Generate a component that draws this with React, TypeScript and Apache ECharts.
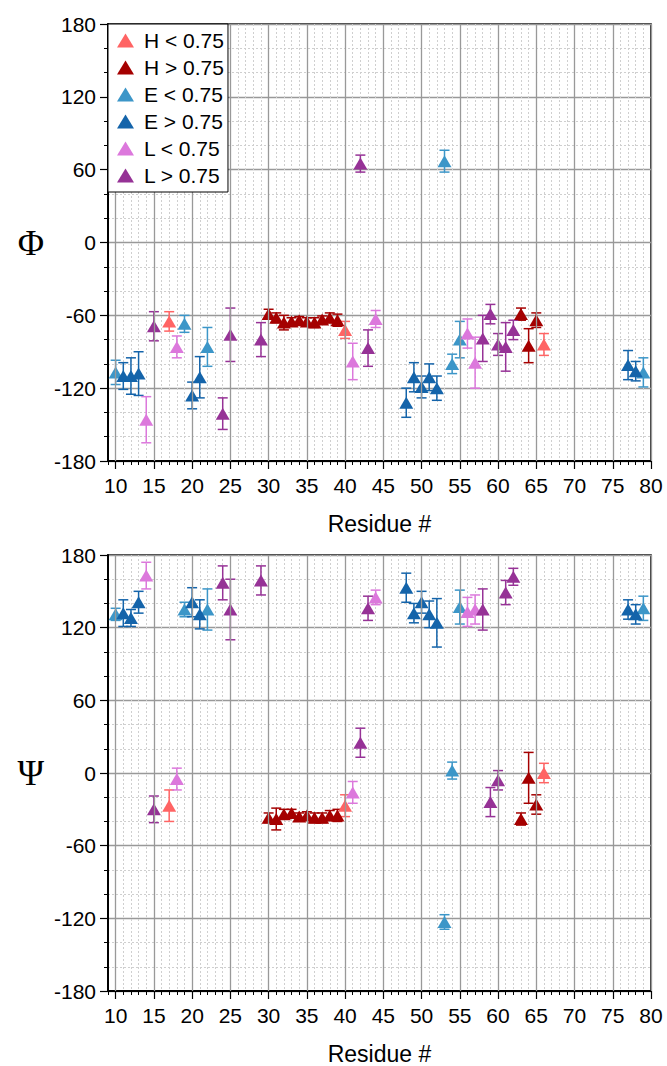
import React, { useEffect, useRef } from "react";
import * as echarts from "echarts";

// ---------- data ----------
const groupNames = ["H < 0.75", "H > 0.75", "E < 0.75", "E > 0.75", "L < 0.75", "L > 0.75"];
const groupColors = ["#ff6464", "#a50000", "#3c96c8", "#1464aa", "#dc78dc", "#963296"];

const residues = [
  10, 11, 12, 13, 14, 15, 17, 18, 19, 20, 21, 22, 24, 25, 29,
  30, 31, 32, 33, 34, 35, 36, 37, 38, 39, 40, 41, 42, 43, 44,
  48, 49, 50, 51, 52, 53, 54, 55, 56, 57, 58, 59, 60, 61, 62,
  63, 64, 65, 66, 77, 78, 79,
];
// index into groupNames
const residueClass = [
  2, 3, 3, 3, 4, 5, 0, 4, 2, 3, 3, 2, 5, 5, 5,
  1, 1, 1, 1, 1, 1, 1, 1, 1, 1, 0, 4, 5, 5, 4,
  3, 3, 3, 3, 3, 2, 2, 2, 4, 4, 5, 5, 5, 5, 5,
  1, 1, 1, 0, 3, 3, 2,
];
const phiValues = [
  -107, -110, -110, -108, -146, -69, -65, -86, -67, -126, -111, -86, -141, -76, -80,
  -59, -62, -66, -65, -64, -65, -66, -63.5, -62, -64, -72, -98, 65, -87, -63,
  -132, -111, -119, -111, -120, 67, -100, -80, -75, -99, -79, -59, -84, -86, -72,
  -59, -85, -64, -84, -101, -106, -107,
];
const phiErrors = [
  10, 11, 15, 18, 19, 12, 8, 9, 7, 11, 17, 16, 13, 22, 14,
  4, 4, 6, 3, 3, 3, 4, 3, 4, 5, 7, 15, 7, 15, 7,
  12, 12, 9, 11, 10, 9, 8, 15, 12, 21, 19, 8, 9, 20, 8,
  5, 14, 6, 9, 12, 8, 12,
];
const psiValues = [
  131, 132, 128, 141, 163, -30, -27, -5, 135, 141, 131, 135, 157, 135, 159,
  -37, -38, -34, -33, -36, -35, -37, -37, -35, -35, -27, -16, 25, 136, 145,
  153, 132, 141, 131, 124, -123, 2, 137, 133, 135, 135, -24, -6, 149, 162,
  -38, -4, -26, 0, 135, 131, 136,
];
const psiErrors = [
  5, 11, 7, 9, 11, 11, 13, 9, 6, 12, 12, 17, 14, 25, 12,
  4, 9, 4, 3, 3, 3, 4, 4, 4, 5, 9, 9, 12, 10, 6,
  12, 8, 9, 11, 20, 6, 7, 14, 12, 12, 17, 12, 8, 10, 7,
  5, 21, 8, 8, 8, 8, 10,
];
const xTickLabels = [10, 15, 20, 25, 30, 35, 40, 45, 50, 55, 60, 65, 70, 75, 80];
const panelTitles = ["Φ", "Ψ"];
const xTitle = "Residue #";

// ---------- layout ----------
const GRID_LEFT = 108;
const GRID_W = 543;
const GRID_H = 437;
const GRID_TOPS = [24, 555];
const SANS = "Liberation Sans, Arial, sans-serif";
const SERIF = "Liberation Serif, Times New Roman, serif";

const renderErr = (params: any, api: any) => {
  const x = api.value(0);
  const y = api.value(1);
  const e = api.value(2);
  const top = api.coord([x, y + e]);
  const bot = api.coord([x, y - e]);
  const hw = 5;
  const style = { stroke: api.visual("color"), lineWidth: 1.5, fill: null };
  return {
    type: "group",
    children: [
      { type: "line", shape: { x1: top[0], y1: top[1], x2: bot[0], y2: bot[1] }, style },
      { type: "line", shape: { x1: top[0] - hw, y1: top[1], x2: top[0] + hw, y2: top[1] }, style },
      { type: "line", shape: { x1: bot[0] - hw, y1: bot[1], x2: bot[0] + hw, y2: bot[1] }, style },
    ],
  };
};

export default function App() {
  const ref = useRef<HTMLDivElement>(null);
  useEffect(() => {
    if (!ref.current) return;
    const chart = echarts.init(ref.current, null, { renderer: "svg" });
    const panels = [
      { vals: phiValues, errs: phiErrors },
      { vals: psiValues, errs: psiErrors },
    ];
    const grid: any[] = [];
    const xAxis: any[] = [];
    const yAxis: any[] = [];
    const series: any[] = [];
    panels.forEach((p, pi) => {
      grid.push({
        left: GRID_LEFT,
        top: GRID_TOPS[pi],
        width: GRID_W,
        height: GRID_H,
        show: true,
        borderColor: "#000",
        borderWidth: 1.5,
        backgroundColor: "transparent",
      });
      // minor x axis (every residue)
      xAxis.push({
        gridIndex: pi,
        type: "value",
        position: "bottom",
        min: 9,
        max: 80,
        interval: 1,
        axisLine: { show: true, onZero: false, lineStyle: { color: "#000", width: 2 } },
        axisTick: { show: true, length: 4, lineStyle: { color: "#000", width: 1 } },
        axisLabel: { show: false },
        splitLine: { show: true, lineStyle: { color: "#cfcfcf", type: [2, 2], width: 1 } },
        name: xTitle,
        nameLocation: "middle",
        nameGap: 51,
        nameTextStyle: { fontSize: 23, color: "#000", fontFamily: SANS },
      });
      // major x axis (labels)
      xAxis.push({
        gridIndex: pi,
        type: "value",
        position: "bottom",
        min: 9,
        max: 80,
        axisLine: { show: false, onZero: false },
        axisTick: { show: true, customValues: xTickLabels, length: 8, lineStyle: { color: "#000", width: 1.2 } },
        axisLabel: { customValues: xTickLabels, fontSize: 21, color: "#000", fontFamily: SANS, margin: 14 },
        splitLine: { show: false },
      });
      yAxis.push({
        gridIndex: pi,
        type: "value",
        min: -180,
        max: 180,
        interval: 60,
        axisLine: { show: true, onZero: false, lineStyle: { color: "#000", width: 2 } },
        axisTick: { show: true, length: 8, lineStyle: { color: "#000", width: 1.2 } },
        minorTick: { show: true, splitNumber: 3, length: 4, lineStyle: { color: "#000" } },
        splitLine: { show: true, lineStyle: { color: "#999", width: 1.3 } },
        minorSplitLine: { show: true, lineStyle: { color: "#cfcfcf", type: [2, 2], width: 1 } },
        axisLabel: { fontSize: 21, color: "#000", fontFamily: SANS, margin: 12 },
        name: panelTitles[pi],
        nameLocation: "middle",
        nameRotate: 0,
        nameGap: 64,
        nameTextStyle: { fontSize: 36, color: "#000", fontFamily: SERIF },
      });
      // major vertical grid lines
      series.push({
        type: "scatter",
        name: "grid" + pi,
        xAxisIndex: pi * 2,
        yAxisIndex: pi,
        data: [],
        z: 1,
        silent: true,
        markLine: {
          silent: true,
          symbol: "none",
          label: { show: false },
          lineStyle: { color: "#999", type: "solid", width: 1.3 },
          data: xTickLabels.map((v) => ({ xAxis: v })),
        },
      });
      groupNames.forEach((gname, gi) => {
        const pts: number[][] = [];
        residues.forEach((r, i) => {
          if (residueClass[i] === gi) pts.push([r, p.vals[i], p.errs[i]]);
        });
        series.push({
          type: "scatter",
          name: gname,
          xAxisIndex: pi * 2,
          yAxisIndex: pi,
          data: pts,
          symbol: "triangle",
          symbolSize: [14, 12],
          itemStyle: { color: groupColors[gi], opacity: 1 },
          z: 4,
        });
        series.push({
          type: "custom",
          name: gname,
          xAxisIndex: pi * 2,
          yAxisIndex: pi,
          data: pts,
          encode: { x: 0, y: 1 },
          renderItem: renderErr,
          itemStyle: { color: groupColors[gi] },
          z: 3,
        });
      });
    });

    chart.setOption({
      animation: false,
      backgroundColor: "#fff",
      grid,
      xAxis,
      yAxis,
      legend: {
        left: GRID_LEFT,
        top: GRID_TOPS[0],
        orient: "vertical",
        icon: "triangle",
        itemWidth: 17,
        itemHeight: 14,
        itemGap: 6,
        padding: [6, 4, 6, 9],
        borderColor: "#000",
        borderWidth: 1,
        borderRadius: 0,
        backgroundColor: "#fff",
        textStyle: { fontSize: 21, fontFamily: SANS, color: "#000", padding: [0, 0, 0, 5] },
        data: groupNames,
        z: 10,
      },
      series,
    });
    return () => chart.dispose();
  }, []);
  return <div ref={ref} style={{ width: 667, height: 1066, position: "absolute", left: 0, top: 0 }} />;
}
